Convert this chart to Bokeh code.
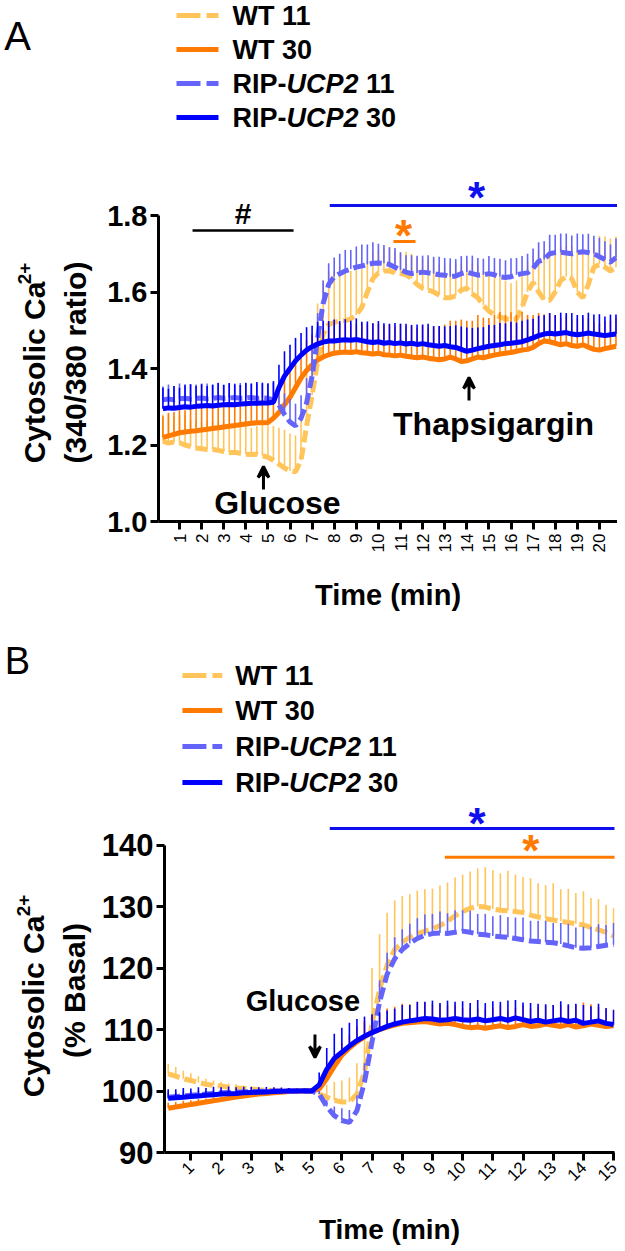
import numpy as np
from bokeh.plotting import figure
from bokeh.layouts import column, row
from bokeh.models import Range1d, Label, Arrow, VeeHead, FixedTicker, PrintfTickFormatter
from bokeh.embed import file_html
from bokeh.resources import INLINE

FONT = "Liberation Sans"

# ------------------------------------------------------------------ data
series_names = ["WT 11", "WT 30", "RIP-UCP2 11", "RIP-UCP2 30"]

# Panel A: 340/380 ratio, sampled every 0.25 min
time_a = np.arange(1, 84) * 0.25
wt11_a = [1.210, 1.205, 1.208, 1.206, 1.200, 1.196, 1.192, 1.190, 1.188, 1.189,
          1.186, 1.183, 1.180, 1.181, 1.178, 1.176, 1.175, 1.176, 1.172, 1.168,
          1.160, 1.150, 1.140, 1.132, 1.130, 1.160, 1.250, 1.330, 1.420, 1.490,
          1.515, 1.520, 1.525, 1.525, 1.530, 1.540, 1.560, 1.600, 1.635, 1.650,
          1.655, 1.655, 1.650, 1.648, 1.645, 1.635, 1.620, 1.610, 1.605, 1.600,
          1.592, 1.585, 1.585, 1.590, 1.605, 1.610, 1.595, 1.585, 1.565, 1.550,
          1.540, 1.535, 1.530, 1.528, 1.530, 1.560, 1.600, 1.625, 1.600, 1.580,
          1.578, 1.600, 1.630, 1.640, 1.635, 1.600, 1.585, 1.620, 1.665, 1.672,
          1.665, 1.655, 1.665]
wt11_a_sem = [0.070, 0.075, 0.068, 0.072, 0.078, 0.070, 0.074, 0.068, 0.076, 0.071,
              0.073, 0.078, 0.070, 0.075, 0.072, 0.077, 0.070, 0.074, 0.080, 0.085,
              0.090, 0.095, 0.100, 0.098, 0.095, 0.120, 0.150, 0.160, 0.150, 0.140,
              0.140, 0.135, 0.140, 0.130, 0.125, 0.120, 0.100, 0.080, 0.070, 0.060,
              0.060, 0.062, 0.058, 0.055, 0.060, 0.065, 0.070, 0.075, 0.080, 0.085,
              0.080, 0.085, 0.090, 0.085, 0.070, 0.075, 0.080, 0.085, 0.090, 0.095,
              0.100, 0.105, 0.100, 0.095, 0.100, 0.090, 0.080, 0.070, 0.110, 0.120,
              0.125, 0.110, 0.090, 0.080, 0.085, 0.110, 0.120, 0.090, 0.070, 0.075,
              0.080, 0.085, 0.080]
wt30_a = [1.220, 1.224, 1.228, 1.232, 1.234, 1.236, 1.237, 1.239, 1.241, 1.243,
          1.245, 1.247, 1.249, 1.251, 1.253, 1.255, 1.257, 1.258, 1.258, 1.259,
          1.270, 1.285, 1.305, 1.325, 1.350, 1.375, 1.395, 1.410, 1.422, 1.430,
          1.436, 1.440, 1.442, 1.443, 1.442, 1.444, 1.441, 1.440, 1.438, 1.440,
          1.436, 1.435, 1.433, 1.435, 1.432, 1.430, 1.428, 1.430, 1.427, 1.425,
          1.423, 1.425, 1.430, 1.425, 1.418, 1.420, 1.425, 1.430, 1.428, 1.432,
          1.435, 1.438, 1.440, 1.442, 1.445, 1.448, 1.450, 1.455, 1.465, 1.472,
          1.470, 1.466, 1.462, 1.465, 1.460, 1.458, 1.462, 1.456, 1.450, 1.448,
          1.452, 1.455, 1.458]
wt30_a_sem = [0.055, 0.060, 0.058, 0.062, 0.057, 0.060, 0.063, 0.058, 0.061, 0.059,
              0.062, 0.058, 0.060, 0.063, 0.059, 0.061, 0.058, 0.060, 0.062, 0.058,
              0.060, 0.065, 0.070, 0.072, 0.075, 0.078, 0.080, 0.078, 0.076, 0.075,
              0.075, 0.072, 0.078, 0.074, 0.076, 0.073, 0.077, 0.075, 0.080, 0.076,
              0.078, 0.080, 0.076, 0.082, 0.079, 0.081, 0.078, 0.083, 0.080, 0.085,
              0.088, 0.090, 0.095, 0.100, 0.110, 0.105, 0.100, 0.110, 0.105, 0.100,
              0.105, 0.110, 0.100, 0.105, 0.095, 0.100, 0.090, 0.085, 0.080, 0.070,
              0.075, 0.072, 0.070, 0.074, 0.068, 0.072, 0.070, 0.075, 0.073, 0.070,
              0.072, 0.070, 0.074]
rip11_a = [1.318, 1.320, 1.318, 1.321, 1.322, 1.320, 1.322, 1.323, 1.321, 1.322,
           1.324, 1.322, 1.323, 1.324, 1.322, 1.323, 1.324, 1.322, 1.323, 1.322,
           1.318, 1.305, 1.280, 1.260, 1.250, 1.270, 1.310, 1.380, 1.480, 1.570,
           1.620, 1.640, 1.648, 1.655, 1.660, 1.665, 1.668, 1.672, 1.675, 1.676,
           1.675, 1.672, 1.665, 1.658, 1.652, 1.648, 1.650, 1.652, 1.650, 1.648,
           1.645, 1.644, 1.640, 1.642, 1.648, 1.652, 1.648, 1.644, 1.645, 1.648,
           1.645, 1.640, 1.638, 1.640, 1.645, 1.648, 1.650, 1.662, 1.680, 1.685,
           1.700, 1.703, 1.704, 1.702, 1.700, 1.703, 1.705, 1.703, 1.700, 1.692,
           1.685, 1.678, 1.690]
rip11_a_sem = [0.035, 0.038, 0.036, 0.040, 0.037, 0.039, 0.036, 0.038, 0.040, 0.037,
               0.039, 0.036, 0.038, 0.037, 0.040, 0.038, 0.036, 0.039, 0.037, 0.040,
               0.045, 0.050, 0.055, 0.060, 0.058, 0.060, 0.065, 0.070, 0.065, 0.060,
               0.055, 0.050, 0.052, 0.055, 0.050, 0.054, 0.056, 0.052, 0.055, 0.050,
               0.048, 0.045, 0.050, 0.046, 0.044, 0.048, 0.045, 0.043, 0.046, 0.044,
               0.047, 0.045, 0.048, 0.044, 0.046, 0.043, 0.047, 0.045, 0.042, 0.046,
               0.044, 0.047, 0.045, 0.048, 0.044, 0.046, 0.050, 0.052, 0.050, 0.048,
               0.050, 0.047, 0.049, 0.051, 0.048, 0.050, 0.046, 0.049, 0.047, 0.050,
               0.048, 0.046, 0.050]
rip30_a = [1.295, 1.297, 1.296, 1.298, 1.300, 1.299, 1.301, 1.302, 1.303, 1.302,
           1.304, 1.305, 1.306, 1.305, 1.307, 1.308, 1.309, 1.309, 1.310, 1.310,
           1.312, 1.350, 1.380, 1.400, 1.420, 1.435, 1.448, 1.457, 1.464, 1.469,
           1.472, 1.472, 1.474, 1.475, 1.474, 1.476, 1.473, 1.470, 1.468, 1.470,
           1.466, 1.468, 1.465, 1.467, 1.464, 1.466, 1.463, 1.465, 1.462, 1.460,
           1.458, 1.460, 1.457, 1.455, 1.450, 1.445, 1.448, 1.452, 1.455, 1.458,
           1.460, 1.462, 1.465, 1.466, 1.468, 1.470, 1.475, 1.480, 1.486, 1.490,
           1.492, 1.490, 1.492, 1.494, 1.490, 1.488, 1.490, 1.493, 1.490, 1.488,
           1.486, 1.488, 1.490]
rip30_a_sem = [0.055, 0.050, 0.058, 0.052, 0.056, 0.060, 0.053, 0.057, 0.051, 0.055,
               0.058, 0.052, 0.056, 0.054, 0.050, 0.055, 0.052, 0.056, 0.053, 0.050,
               0.055, 0.060, 0.065, 0.062, 0.060, 0.058, 0.060, 0.055, 0.058, 0.056,
               0.052, 0.056, 0.050, 0.054, 0.051, 0.055, 0.049, 0.053, 0.050, 0.054,
               0.052, 0.049, 0.054, 0.050, 0.053, 0.048, 0.052, 0.050, 0.055, 0.051,
               0.053, 0.050, 0.054, 0.058, 0.060, 0.062, 0.058, 0.055, 0.053, 0.056,
               0.054, 0.057, 0.053, 0.056, 0.052, 0.055, 0.053, 0.050, 0.052, 0.049,
               0.053, 0.050, 0.054, 0.051, 0.055, 0.052, 0.050, 0.053, 0.051, 0.054,
               0.050, 0.053, 0.051]
ticks_a_x = list(range(1, 21))
ticks_a_y = [1.0, 1.2, 1.4, 1.6, 1.8]

# Panel B: % basal, sampled every 0.25 min
time_b = np.arange(1, 61) * 0.25
wt11_b = [102.8, 102.4, 102.0, 101.7, 101.4, 101.1, 100.9, 100.8, 100.6, 100.5,
          100.4, 100.3, 100.2, 100.15, 100.1, 100.05, 100.0, 100.0, 100.0, 100.0,
          99.5, 99.0, 98.5, 98.2, 98.2, 99.5, 103.0, 111.0, 116.5, 120.5,
          123.0, 124.2, 125.0, 125.6, 126.0, 126.4, 126.9, 127.6, 128.5, 129.2,
          129.7, 130.0, 129.9, 129.6, 129.4, 129.3, 129.2, 129.0, 128.6, 128.3,
          128.0, 127.8, 127.6, 127.4, 127.2, 127.0, 126.6, 126.2, 125.8, 125.2]
wt11_b_sem = [1.6, 1.5, 1.3, 1.2, 1.0, 0.9, 0.8, 0.7, 0.6, 0.6,
              0.5, 0.5, 0.4, 0.4, 0.3, 0.3, 0.2, 0.2, 0.2, 0.2,
              1.0, 2.0, 3.0, 3.5, 4.0, 5.0, 8.0, 9.0, 9.0, 8.5,
              8.0, 7.5, 7.0, 7.0, 6.8, 6.5, 6.5, 6.3, 6.2, 6.0,
              6.0, 6.2, 6.5, 6.3, 6.0, 6.5, 6.0, 5.8, 6.0, 5.5,
              5.5, 6.0, 5.2, 5.5, 5.0, 5.5, 4.8, 5.0, 4.5, 4.5]
wt30_b = [97.2, 97.4, 97.6, 97.8, 98.0, 98.2, 98.4, 98.6, 98.8, 99.0,
          99.2, 99.35, 99.5, 99.6, 99.7, 99.8, 99.9, 100.0, 100.0, 100.0,
          100.3, 102.0, 104.0, 105.8, 107.0, 108.0, 108.8, 109.5, 110.0, 110.4,
          110.7, 111.0, 111.1, 111.2, 111.3, 111.1, 110.9, 111.0, 110.8, 110.5,
          110.3, 110.4, 110.2, 110.4, 110.6, 110.3, 110.5, 110.8, 110.5, 110.6,
          110.9, 110.7, 110.5, 110.8, 110.4, 110.6, 110.9, 110.7, 110.5, 110.6]
wt30_b_sem = [0.9, 0.8, 0.8, 0.7, 0.7, 0.6, 0.6, 0.5, 0.5, 0.4,
              0.4, 0.4, 0.3, 0.3, 0.3, 0.2, 0.2, 0.2, 0.2, 0.2,
              0.5, 1.0, 1.5, 2.0, 2.2, 2.5, 2.6, 2.8, 2.8, 3.0,
              3.0, 3.2, 3.0, 3.3, 3.1, 3.0, 3.2, 2.9, 3.1, 3.0,
              3.2, 2.9, 3.1, 3.0, 3.3, 2.8, 3.0, 3.2, 2.9, 3.1,
              3.0, 3.3, 3.5, 3.1, 3.6, 3.8, 3.2, 3.0, 2.8, 2.5]
rip11_b = [99.0, 99.1, 99.2, 99.3, 99.4, 99.5, 99.6, 99.7, 99.75, 99.8,
           99.85, 99.9, 99.9, 99.95, 100.0, 100.0, 100.0, 100.0, 100.0, 100.0,
           99.5, 97.5, 96.0, 95.2, 94.9, 96.8, 101.5, 108.0, 114.5, 119.0,
           121.5, 123.0, 124.0, 124.8, 125.3, 125.6, 125.7, 125.6, 125.8, 126.0,
           125.8, 125.5, 125.4, 125.2, 125.1, 125.0, 124.8, 124.6, 124.4, 124.3,
           124.2, 124.1, 123.9, 123.6, 123.3, 123.2, 123.3, 123.5, 123.7, 123.8]
rip11_b_sem = [0.8, 0.7, 0.7, 0.6, 0.6, 0.5, 0.5, 0.4, 0.4, 0.3,
               0.3, 0.3, 0.2, 0.2, 0.2, 0.2, 0.1, 0.1, 0.1, 0.1,
               0.5, 1.0, 1.5, 2.0, 2.0, 2.5, 3.0, 3.5, 3.5, 3.5,
               3.5, 3.3, 3.2, 3.3, 3.4, 3.2, 3.5, 3.3, 3.6, 3.4,
               3.5, 3.3, 3.4, 3.2, 3.5, 3.3, 3.4, 3.6, 3.3, 3.4,
               3.5, 3.2, 3.4, 3.6, 3.3, 3.5, 3.4, 3.6, 3.3, 3.5]
rip30_b = [98.8, 98.9, 99.0, 99.1, 99.2, 99.3, 99.4, 99.5, 99.55, 99.6,
           99.7, 99.75, 99.8, 99.85, 99.9, 99.95, 100.0, 100.0, 100.05, 100.0,
           101.0, 103.5, 105.3, 106.3, 107.3, 108.2, 108.9, 109.5, 110.0, 110.5,
           110.9, 111.2, 111.4, 111.6, 111.8, 111.7, 111.5, 111.6, 111.8, 111.6,
           111.5, 111.7, 111.4, 111.6, 111.8, 111.5, 111.9, 111.6, 111.3, 111.5,
           111.2, 111.4, 111.6, 111.3, 111.5, 111.0, 111.2, 111.4, 111.0, 110.8]
rip30_b_sem = [1.5, 1.4, 1.5, 1.3, 1.4, 1.2, 1.3, 1.1, 1.2, 1.0,
               1.0, 0.9, 0.8, 0.8, 0.7, 0.6, 0.5, 0.4, 0.3, 0.3,
               2.0, 3.5, 4.0, 4.0, 3.8, 3.5, 3.2, 3.0, 2.8, 2.6,
               2.5, 2.8, 2.6, 2.9, 2.7, 3.0, 2.8, 3.1, 2.7, 3.0,
               2.8, 3.1, 2.9, 3.0, 2.7, 3.2, 2.9, 2.8, 3.0, 2.7,
               2.9, 2.6, 3.0, 2.8, 2.7, 3.0, 2.6, 2.8, 2.5, 2.4]
ticks_b_x = list(range(1, 16))
ticks_b_y = [90, 100, 110, 120, 130, 140]

# significance bars (x start, x end, y) and stimulus times
hash_bar_a = (1.59, 6.16, 1.761)
star_rip_a = (7.8, 20.9, 1.826)
star_wt_a = (10.68, 11.68, 1.732)
glucose_a = 4.8
thapsigargin_a = 14.1
star_rip_b = (5.6, 15.1, 142.7)
star_wt_b = (9.41, 15.1, 138.0)
glucose_b = 5.11

# ------------------------------------------------------------------ style
C_WT11 = "#FFC55A"
C_WT30 = "#FF7A00"
C_RIP11 = "#6464FA"
C_RIP30 = "#0000FF"
C_STAR_BLUE = "#1010EE"
colors = [C_WT11, C_WT30, C_RIP11, C_RIP30]
dashes = ["12 5", "solid", "12 5", "solid"]
leg_dashes = ["24 6", "solid", "24 6", "solid"]
STAR_SIZE = 44


def no_align(p):
    try:
        p.frame_align = False
    except Exception:
        pass


def style_axes(p, xticks, yticks, ybounds, xorient, xfs, yfs, ypr, xlab_size, xlab_standoff):
    p.grid.visible = False
    p.outline_line_color = None
    p.background_fill_color = "white"
    p.border_fill_color = "white"
    for ax in (p.xaxis[0], p.yaxis[0]):
        ax.axis_line_width = 3
        ax.major_tick_line_width = 3
        ax.major_tick_in = 0
        ax.major_tick_out = 8
        ax.minor_tick_out = 0
        ax.minor_tick_in = 0
        ax.major_label_text_font = FONT
        ax.major_label_text_color = "black"
    xa = p.xaxis[0]
    xa.ticker = FixedTicker(ticks=xticks)
    xa.major_label_orientation = xorient
    xa.major_label_text_font_size = xfs
    xa.major_label_standoff = 4
    xa.axis_label = "Time (min)"
    xa.axis_label_text_font = FONT
    xa.axis_label_text_font_style = "bold"
    xa.axis_label_text_font_size = xlab_size
    xa.axis_label_text_color = "black"
    xa.axis_label_standoff = xlab_standoff
    ya = p.yaxis[0]
    ya.ticker = FixedTicker(ticks=yticks)
    ya.bounds = ybounds
    ya.formatter = PrintfTickFormatter(format=ypr)
    ya.major_label_text_font_size = yfs
    ya.major_label_text_font_style = "bold"
    ya.major_label_standoff = 3


def lab(p, x, y, text, size, color="black", style="bold", align="center",
        baseline="middle", angle=0.0):
    p.add_layout(Label(x=x, y=y, text=text, text_font=FONT,
                       text_font_size=f"{size}px", text_font_style=style,
                       text_color=color, text_align=align,
                       text_baseline=baseline, angle=angle))


def draw_series(p, t, means, sems):
    for m, s, c, d in zip(means, sems, colors, dashes):
        m = np.asarray(m)
        s = np.asarray(s)
        p.segment(x0=t, y0=m, x1=t, y1=m + s, line_color=c, line_width=1.6)
        p.line(t, m, line_color=c, line_width=5, line_dash=d)


def draw_legend(p, fx, fy, x0, x1, xt, rows, size):
    for i, (c, d) in enumerate(zip(colors, leg_dashes)):
        yy = fy(rows[i])
        p.line([fx(x0), fx(x1)], [yy, yy], line_color=c, line_width=5, line_dash=d)
    w_rip = 2.0 * size
    w_ucp = 2.667 * size
    w_sp = 0.278 * size
    lab(p, fx(xt), fy(rows[0]), "WT 11", size, align="left")
    lab(p, fx(xt), fy(rows[1]), "WT 30", size, align="left")
    for r, suf in ((rows[2], "11"), (rows[3], "30")):
        lab(p, fx(xt), fy(r), "RIP-", size, align="left")
        lab(p, fx(xt + w_rip), fy(r), "UCP2", size, style="bold italic", align="left")
        lab(p, fx(xt + w_rip + w_ucp + w_sp), fy(r), suf, size, align="left")


def star(p, fx, fy, px, py, color):
    # '*' sits high in the em box: shift its anchor down so the glyph centre lands on py
    lab(p, fx(px), fy(py + 0.22 * STAR_SIZE), "*", STAR_SIZE, color=color)


def side_fig(left_px, right_px, top_py, bottom_py):
    s = figure(width=right_px - left_px, height=bottom_py - top_py,
               output_backend="svg", toolbar_location=None,
               x_axis_location=None, y_axis_location=None,
               x_range=Range1d(left_px, right_px), y_range=Range1d(bottom_py, top_py),
               min_border_left=0, min_border_right=0, min_border_top=0, min_border_bottom=0)
    s.grid.visible = False
    s.outline_line_color = None
    s.background_fill_color = "white"
    s.border_fill_color = "white"
    no_align(s)
    return s


# ------------------------------------------------------------------ panel A
# page-pixel helpers (layout only): frame spans page x 158..617, y 0..521
def axA(px):
    return 1.0 + (px - 179.0) / 22.1
def ayA(py):
    return 1.0 + (521.0 - py) * 0.8 / 306.0

A_TOP, A_BOT = 0, 640
A_SPLIT = 104
pA = figure(width=617 - A_SPLIT, height=A_BOT - A_TOP, output_backend="svg", toolbar_location=None,
            x_range=Range1d(axA(158), axA(617)), y_range=Range1d(1.0, ayA(A_TOP)),
            min_border_left=158 - A_SPLIT, min_border_right=0, min_border_top=0,
            min_border_bottom=A_BOT - 521)
no_align(pA)
style_axes(pA, ticks_a_x, ticks_a_y, (1.0, 1.8), np.pi / 2, "17px", "29px", "%.1f", "29px", 24)
draw_series(pA, time_a, [wt11_a, wt30_a, rip11_a, rip30_a],
            [wt11_a_sem, wt30_a_sem, rip11_a_sem, rip30_a_sem])

pA.line([hash_bar_a[0], hash_bar_a[1]], [hash_bar_a[2]] * 2, line_color="black", line_width=2.5)
lab(pA, (hash_bar_a[0] + hash_bar_a[1]) / 2, ayA(213), "#", 30)
pA.line([star_rip_a[0], star_rip_a[1]], [star_rip_a[2]] * 2, line_color=C_STAR_BLUE, line_width=3)
star(pA, axA, ayA, 476, 187, C_STAR_BLUE)
pA.line([star_wt_a[0], star_wt_a[1]], [star_wt_a[2]] * 2, line_color=C_WT30, line_width=3)
star(pA, axA, ayA, 403, 225, C_WT30)

pA.add_layout(Arrow(end=VeeHead(size=11, line_width=3, fill_color="black", line_color="black"),
                    x_start=glucose_a, y_start=ayA(489), x_end=glucose_a, y_end=ayA(466),
                    line_width=3, line_color="black"))
lab(pA, axA(277), ayA(502), "Glucose", 32)
pA.add_layout(Arrow(end=VeeHead(size=11, line_width=3, fill_color="black", line_color="black"),
                    x_start=thapsigargin_a, y_start=ayA(400), x_end=thapsigargin_a, y_end=ayA(377),
                    line_width=3, line_color="black"))
lab(pA, axA(493), ayA(423), "Thapsigargin", 32)
draw_legend(pA, axA, ayA, 176, 218, 232, [15, 49, 83, 117], 27)

sA = side_fig(0, A_SPLIT, A_TOP, A_BOT)
lab(sA, 17, 35, "A", 40, style="normal")
lab(sA, 34, 372, "Cytosolic Ca", 30, angle=np.pi / 2)
lab(sA, 24, 273, "2+", 19, angle=np.pi / 2)
lab(sA, 75, 362, "(340/380 ratio)", 30, angle=np.pi / 2)

# ------------------------------------------------------------------ panel B
# frame spans page x 162..614, y 640..1152; a small right border keeps the last tick label whole
def axB(px):
    return 0.127 + (px - 162.0) / 30.33
def ayB(py):
    return 90.0 + (1152.0 - py) / 6.15

B_TOP, B_BOT = 640, 1248
B_SPLIT = 98
B_RIGHT = 614
B_PAD = 10
pB = figure(width=B_RIGHT + B_PAD - B_SPLIT, height=B_BOT - B_TOP, output_backend="svg",
            toolbar_location=None,
            x_range=Range1d(axB(162), axB(B_RIGHT)), y_range=Range1d(90.0, ayB(B_TOP)),
            min_border_left=162 - B_SPLIT, min_border_right=B_PAD, min_border_top=0,
            min_border_bottom=B_BOT - 1152)
no_align(pB)
style_axes(pB, ticks_b_x, ticks_b_y, (90, 140), np.pi / 4, "17px", "31px", "%d", "28px", 25)
draw_series(pB, time_b, [wt11_b, wt30_b, rip11_b, rip30_b],
            [wt11_b_sem, wt30_b_sem, rip11_b_sem, rip30_b_sem])

pB.line([star_rip_b[0], star_rip_b[1]], [star_rip_b[2]] * 2, line_color=C_STAR_BLUE, line_width=3)
star(pB, axB, ayB, 476, 813, C_STAR_BLUE)
pB.line([star_wt_b[0], star_wt_b[1]], [star_wt_b[2]] * 2, line_color=C_WT30, line_width=3)
star(pB, axB, ayB, 530, 840, C_WT30)

pB.add_layout(Arrow(end=VeeHead(size=11, line_width=3, fill_color="black", line_color="black"),
                    x_start=glucose_b, y_start=ayB(1034), x_end=glucose_b, y_end=ayB(1057),
                    line_width=3, line_color="black"))
lab(pB, axB(301), ayB(1000), "Glucose", 29)
draw_legend(pB, axB, ayB, 180, 220, 233, [675, 710, 746, 782], 27)

sB = side_fig(0, B_SPLIT, B_TOP, B_BOT)
lab(sB, 17, 660, "B", 38, style="normal")
lab(sB, 33, 1006, "Cytosolic Ca", 30, angle=np.pi / 2)
lab(sB, 23, 905, "2+", 19, angle=np.pi / 2)
lab(sB, 74, 990, "(% Basal)", 30, angle=np.pi / 2)

layout = column(row(sA, pA, spacing=0), row(sB, pB, spacing=0), spacing=0)
open("out.html", "w").write(file_html(layout, INLINE))
